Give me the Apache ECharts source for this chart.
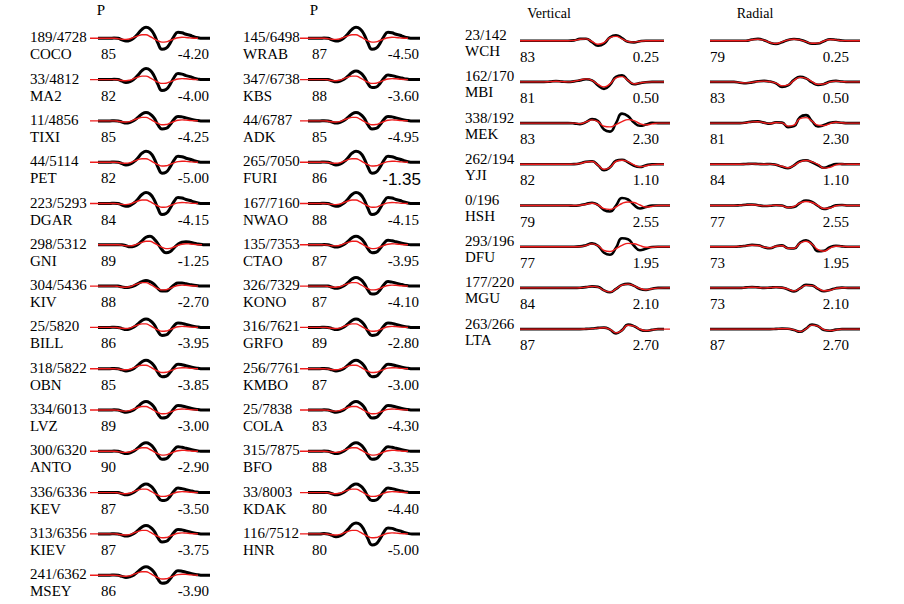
<!DOCTYPE html>
<html><head><meta charset="utf-8">
<script src="https://cdn.jsdelivr.net/npm/echarts@6/dist/echarts.min.js"></script>
<style>html,body{margin:0;padding:0;background:#fff}#c{width:904px;height:604px}</style>
</head><body><div id="c"></div>
<script>
// ---------- P-wave waveform shapes (31 samples) ----------
const P_OBS_LARGE = [null,null,0,0,0,0,0.3,0,-1.5,-2.8,-2,0.5,4.5,9,11,9.5,4,-5,-11,-10,-5,2,6,5.5,4,3,1.5,0.5,0,0,0];
const P_OBS_MED   = [null,null,0,0,0,0,0.2,0,-1.2,-2.2,-1.5,0.3,3.5,7,8.5,7,3,-4,-8,-7.5,-3.8,1.5,4.5,4,3,2,1,0.4,0,0,0];
const P_OBS_SMALL = [null,null,0,0,0,0,0.2,0,-0.8,-1.5,-1,0.3,2.5,4.5,5.5,4.5,2,-2.5,-5,-5,-2.5,1,3,3,2.3,1.5,0.8,0.3,0,0,0];
const P_OBS_LATE  = [null,null,0,0,0,0,0,0,0,-1,-2,-1.5,0.5,4,7.5,8.5,6,1,-5,-8,-7,-3,0.5,2.5,3,2.5,1.5,0.8,0.3,0,0];
const P_SYN       = [0,0,0,0,0,0,0,-0.3,-0.9,-1.1,-0.5,1,2.5,3.5,3.5,1.8,-0.5,-2.5,-3.8,-3.6,-2.2,-0.6,0.6,1,0.8,0.4,0.1,0,null,null,null];
const P_SYN_LATE  = [null,null,0,0,0,0,0,0,-0.3,-0.9,-1.1,-0.5,1,2.5,3.5,3.5,1.8,-0.5,-2.5,-3.8,-3.6,-2.2,-0.6,0.6,1,0.8,0.4,0.1,0,null,null];

// ---------- P column 1 ----------
const P1_DIST = ['189/4728','33/4812','11/4856','44/5114','223/5293','298/5312','304/5436','25/5820','318/5822','334/6013','300/6320','336/6336','313/6356','241/6362'];
const P1_STA  = ['COCO','MA2','TIXI','PET','DGAR','GNI','KIV','BILL','OBN','LVZ','ANTO','KEV','KIEV','MSEY'];
const P1_FIT  = ['85','82','85','82','84','89','88','86','85','89','90','87','87','86'];
const P1_SHIFT= ['-4.20','-4.00','-4.25','-5.00','-4.15','-1.25','-2.70','-3.95','-3.85','-3.00','-2.90','-3.50','-3.75','-3.90'];
const P1_OBS  = [P_OBS_LARGE,P_OBS_LARGE,P_OBS_MED,P_OBS_LARGE,P_OBS_LARGE,P_OBS_LATE,P_OBS_SMALL,P_OBS_MED,P_OBS_MED,P_OBS_MED,P_OBS_MED,P_OBS_MED,P_OBS_MED,P_OBS_MED];
const P1_SYN  = [P_SYN,P_SYN,P_SYN,P_SYN,P_SYN,P_SYN_LATE,P_SYN,P_SYN,P_SYN,P_SYN,P_SYN,P_SYN,P_SYN,P_SYN];

// ---------- P column 2 ----------
const P2_DIST = ['145/6498','347/6738','44/6787','265/7050','167/7160','135/7353','326/7329','316/7621','256/7761','25/7838','315/7875','33/8003','116/7512'];
const P2_STA  = ['WRAB','KBS','ADK','FURI','NWAO','CTAO','KONO','GRFO','KMBO','COLA','BFO','KDAK','HNR'];
const P2_FIT  = ['87','88','85','86','88','87','87','89','87','83','88','80','80'];
const P2_SHIFT= ['-4.50','-3.60','-4.95','-1.35','-4.15','-3.95','-4.10','-2.80','-3.00','-4.30','-3.35','-4.40','-5.00'];
const P2_OBS  = [P_OBS_LARGE,P_OBS_MED,P_OBS_MED,P_OBS_LARGE,P_OBS_LARGE,P_OBS_MED,P_OBS_MED,P_OBS_MED,P_OBS_MED,P_OBS_MED,P_OBS_MED,P_OBS_MED,P_OBS_LARGE];
const P2_SYN  = [P_SYN,P_SYN,P_SYN,P_SYN,P_SYN,P_SYN,P_SYN,P_SYN,P_SYN,P_SYN,P_SYN,P_SYN,P_SYN];

// ---------- Vertical / Radial (26 samples) ----------
const V_WCH_OBS = [0,0,0,0,0,0,0,0,0,0.3,1.8,2,-1.5,-5,-3,3.5,5.5,2.5,-1,-1.7,-0.5,0,0,0,0,null];
const V_WCH_SYN = [0,0,0,0,0,0,0,0,0,0.3,1.5,1.8,-0.8,-3.5,-2,3,4.3,1.8,-0.8,-1.4,-0.5,0,0,0,0,null];
const R_WCH_OBS = [0,0,0,0,0,0,0,1.2,1.8,0.5,-2,-3.2,-1.5,0.8,1.7,1,-1,-3,-2.8,-0.5,1.5,1,0.2,0,0,0];
const R_WCH_SYN = [0,0,0,0,0,0,0,1,1.5,0.5,-1.8,-2.8,-1.2,0.8,1.5,0.8,-1,-2.6,-2.4,-0.3,1.2,0.8,0.1,0,0,0];
const V_MBI_OBS = [0,0,0,0,0,0.3,0.8,0.3,0,0.5,1.5,2.7,1.5,-3.5,-7,-3,5,6.5,1.5,-2.3,-1.2,-0.3,0,0,0,null];
const V_MBI_SYN = [0,0,0,0,0,0.3,0.6,0.3,0,0.6,1.8,3,1.5,-2.5,-5,-2,4,5.3,1.5,-2,-1,-0.2,0,0,0,null];
const R_MBI_OBS = [0,0,0,0,0,-0.8,-1.3,-0.5,0.6,1,0.3,-1.5,-5,-3.5,2,5,3.5,-0.5,-3,-2,0.3,1,0.4,0,0,0];
const R_MBI_SYN = [0,0,0,0,0,-0.6,-1,-0.4,0.4,0.8,0.2,-1.2,-4,-3,1.5,4.5,3.5,0.3,-2.5,-2,0,0.8,0.3,0,0,0];
const V_MEK_OBS = [0,0,0,0,0,0,0,0,0,-0.3,-1,1,4,2,-6.5,-8.5,0,9.5,7,0.5,-2.7,-1.5,0.3,0,0,0];
const V_MEK_SYN = [0,0,0,0,0,0,0,0,0,0,-0.5,1.2,3.2,1.5,-3.2,-3.8,-1.5,1.5,3.5,2.5,-0.5,-1.8,-0.8,0,0,0];
const R_MEK_OBS = [0,0,0,0,0,0,0.5,1.5,1.7,0.5,-0.5,0.8,0.5,-4,-3,6,8,2,-3.3,-2,0.3,1,0.3,0,0,0];
const R_MEK_SYN = [0,0,0,0,0,0,0.4,1.2,1.4,0.4,-0.4,0.6,0.2,-3,-2,4.5,5.5,2,-2,-2.5,-0.5,0.8,0.3,0,0,0];
const V_YJI_OBS = [0,0,0,0,0,0,0,0,0,0.2,1,2.5,3,-1,-6,-3,3.5,4.5,2,-1.5,-2.7,-1,0,0,0,null];
const V_YJI_SYN = [0,0,0,0,0,0,0,0,0,0.2,0.8,2.3,2.8,-0.8,-5,-3,2.8,4,2.5,-0.5,-2.5,-1.5,-0.3,0,0,null];
const R_YJI_OBS = [0,0,0,0,0,0,0.3,0.5,0.3,0,0.3,-0.5,-2.5,-4,-1,3,4,2,-1,-3.5,-1.5,0.3,0.2,0,0,0];
const R_YJI_SYN = [0,0,0,0,0,0,0.2,0.4,0.2,0,0.2,-0.4,-2,-3.5,-1,2.5,3.8,2.5,0,-3.8,-3,-0.5,0.3,0,0,0];
const V_HSH_OBS = [0,0,0,0,0,0,0,0,0,-0.3,0.3,1.5,2.7,0.5,-4.5,-6,0,7.5,6,0.5,-3,-1.5,0,0,0,0];
const V_HSH_SYN = [0,0,0,0,0,0,0,0,0,0,0.2,1.2,2.2,0.5,-3.2,-4,-1.5,2,3.5,3,0.5,-1.5,-1,0,0,0];
const R_HSH_OBS = [0,0,0,0,0,0.3,0.8,1,0.3,-0.5,-0.3,0.3,0,-2,-1.5,2.5,5,3.5,-0.5,-3.5,-2,0.3,0.5,0,0,0];
const R_HSH_SYN = [0,0,0,0,0,0.2,0.6,0.8,0.3,-0.4,-0.2,0.3,-0.2,-2,-1,2.5,4,3,0,-3,-2.5,-0.2,0.4,0,0,0];
const V_DFU_OBS = [0,0,0,0,0,0,0,0,0,0,0.3,1.5,3.3,1,-6,-8,-1,8.5,7.5,1,-3.5,-2,-0.3,0,0,0];
const V_DFU_SYN = [0,0,0,0,0,0,0,0,0,0,0.2,1.2,2.8,1,-3.8,-4.8,-2,1.3,3.3,3,1,-0.5,-0.5,0,0,0];
const R_DFU_OBS = [0,0,0,0,0,0.3,1,1.8,1.5,-0.5,-1.5,0.5,1.3,-1.5,-1.8,4,6.5,2.5,-4.5,-4,-0.5,1,0.3,0,0,0];
const R_DFU_SYN = [0,0,0,0,0,0.3,0.8,1.5,1.2,-0.5,-1.2,0.5,1,-1.5,-1.5,3.5,5.5,2.5,-3,-4.5,-1.5,0.5,0.3,0,0,0];
const V_MGU_OBS = [0,0,0,0,0,0,0,0,0,0,0.2,0.8,1.5,1,-2.5,-4.3,-1,3,4,2,-1,-2,-0.8,0,0,0];
const V_MGU_SYN = [0,0,0,0,0,0,0,0,0,0,0.2,0.8,1.5,0.8,-2.5,-4,-1,2.8,3.8,2,-0.5,-1.8,-0.8,-0.2,0,0];
const R_MGU_OBS = [0,0,0,0,0,0,0.5,0.8,0.5,0,0.3,0.7,0.3,-1.5,-3.5,-0.5,3,2.5,-1,-3.3,-2,-0.3,0.3,0,0,0];
const R_MGU_SYN = [0,0,0,0,0,0,0.4,0.6,0.4,0,0.3,0.6,0.2,-1.2,-3,-0.5,2.5,2.3,-0.5,-2.8,-2.3,-0.5,0.2,0,0,0];
const V_LTA_OBS = [0,0,0,0,0,0,0,0,0,0,0,0.2,0.6,1.2,1.5,-0.5,-4.3,-1,4.5,3,-0.5,-1.7,-0.8,0,0,null];
const V_LTA_SYN = [0,0,0,0,0,0,0,0,0,0,0,0.2,0.5,1,1.3,-0.3,-3.8,-1.2,3.8,3,0,-1.5,-0.8,0,0,0];
const R_LTA_OBS = [0,0,0,0,0,0,0,0,0,0,0,0.2,0.5,0.3,-1,-2.7,0.5,4.5,3,-1,-1.7,-0.5,0,0,0,0];
const R_LTA_SYN = [0,0,0,0,0,0,0,0,0,0,0,0.2,0.4,0.3,-0.8,-2.4,0.3,4,3,-0.5,-1.5,-0.8,0,0,0,0];

const VR_DIST  = ['23/142','162/170','338/192','262/194','0/196','293/196','177/220','263/266'];
const VR_STA   = ['WCH','MBI','MEK','YJI','HSH','DFU','MGU','LTA'];
const V_FIT    = ['83','81','83','82','79','77','84','87'];
const R_FIT    = ['79','83','81','84','77','73','73','87'];
const VR_SHIFT = ['0.25','0.50','2.30','1.10','2.55','1.95','2.10','2.70'];
const V_OBS = [V_WCH_OBS,V_MBI_OBS,V_MEK_OBS,V_YJI_OBS,V_HSH_OBS,V_DFU_OBS,V_MGU_OBS,V_LTA_OBS];
const V_SYN = [V_WCH_SYN,V_MBI_SYN,V_MEK_SYN,V_YJI_SYN,V_HSH_SYN,V_DFU_SYN,V_MGU_SYN,V_LTA_SYN];
const R_OBS = [R_WCH_OBS,R_MBI_OBS,R_MEK_OBS,R_YJI_OBS,R_HSH_OBS,R_DFU_OBS,R_MGU_OBS,R_LTA_OBS];
const R_SYN = [R_WCH_SYN,R_MBI_SYN,R_MEK_SYN,R_YJI_SYN,R_HSH_SYN,R_DFU_SYN,R_MGU_SYN,R_LTA_SYN];

const TITLES = ['P','P','Vertical','Radial'];

// ---------- build ----------
const RED = '#ee1c1c';
const SERIF = '"Liberation Serif","Times New Roman",serif';
const grids = [], xAxes = [], yAxes = [], series = [], graphics = [];

function addTrace(left, width, baseline, obs, syn, obsWidth) {
  const idx = grids.length;
  grids.push({left: left, top: baseline - 15, width: width, height: 30});
  xAxes.push({type: 'category', gridIndex: idx, boundaryGap: false, show: false,
              data: obs.map((_, i) => i)});
  yAxes.push({type: 'value', gridIndex: idx, min: -15, max: 15, show: false});
  series.push({type: 'line', xAxisIndex: idx, yAxisIndex: idx, data: obs, smooth: 0.5,
               symbol: 'none', silent: true, z: 2,
               lineStyle: {color: '#000', width: obsWidth}});
  series.push({type: 'line', xAxisIndex: idx, yAxisIndex: idx, data: syn, smooth: 0.5,
               symbol: 'none', silent: true, z: 3,
               lineStyle: {color: RED, width: 1.4}});
}
function addText(text, x, y, align, opts) {
  opts = opts || {};
  graphics.push({type: 'text', x: x, y: y, silent: true,
    style: {text: text, fill: '#000', align: align || 'left', verticalAlign: 'middle',
            fontSize: opts.size || 15, fontFamily: opts.family || SERIF}});
}

// titles
addText(TITLES[0], 101, 10, 'center');
addText(TITLES[1], 314, 10, 'center');
addText(TITLES[2], 549, 13, 'center', {size: 14});
addText(TITLES[3], 755, 13, 'center', {size: 14});

const P_STEP = 41.3, V_STEP = 41.2;
P1_STA.forEach((s, k) => {
  const b = 38.3 + P_STEP * k;
  addTrace(90, 120, b, P1_OBS[k], P1_SYN[k], 3);
  addText(P1_DIST[k], 30, b - 1, 'left');
  addText(s, 30, b + 16, 'left');
  addText(P1_FIT[k], 101, b + 16, 'left');
  addText(P1_SHIFT[k], 209, b + 16, 'right');
});
P2_STA.forEach((s, k) => {
  const b = 38.3 + P_STEP * k;
  addTrace(300, 120, b, P2_OBS[k], P2_SYN[k], 3);
  addText(P2_DIST[k], 243, b - 1, 'left');
  addText(s, 243, b + 16, 'left');
  addText(P2_FIT[k], 312, b + 16, 'left');
  if (s === 'FURI') addText(P2_SHIFT[k], 421, b + 17, 'right', {size: 17, family: '"Liberation Sans",Arial,sans-serif'});
  else addText(P2_SHIFT[k], 419, b + 16, 'right');
});
VR_STA.forEach((s, k) => {
  const b = 40.7 + V_STEP * k;
  addTrace(520, 150, b, V_OBS[k], V_SYN[k], 2.6);
  addTrace(710, 150, b, R_OBS[k], R_SYN[k], 2.6);
  addText(VR_DIST[k], 465, b - 5.5, 'left');
  addText(s, 465, b + 10.5, 'left');
  addText(V_FIT[k], 520, b + 16, 'left');
  addText(VR_SHIFT[k], 659, b + 16, 'right');
  addText(R_FIT[k], 710, b + 16, 'left');
  addText(VR_SHIFT[k], 849, b + 16, 'right');
});

const chart = echarts.init(document.getElementById('c'), null, {renderer: 'svg'});
chart.setOption({
  animation: false,
  backgroundColor: '#fff',
  grid: grids, xAxis: xAxes, yAxis: yAxes, series: series,
  graphic: graphics
});
</script>
</body></html>
